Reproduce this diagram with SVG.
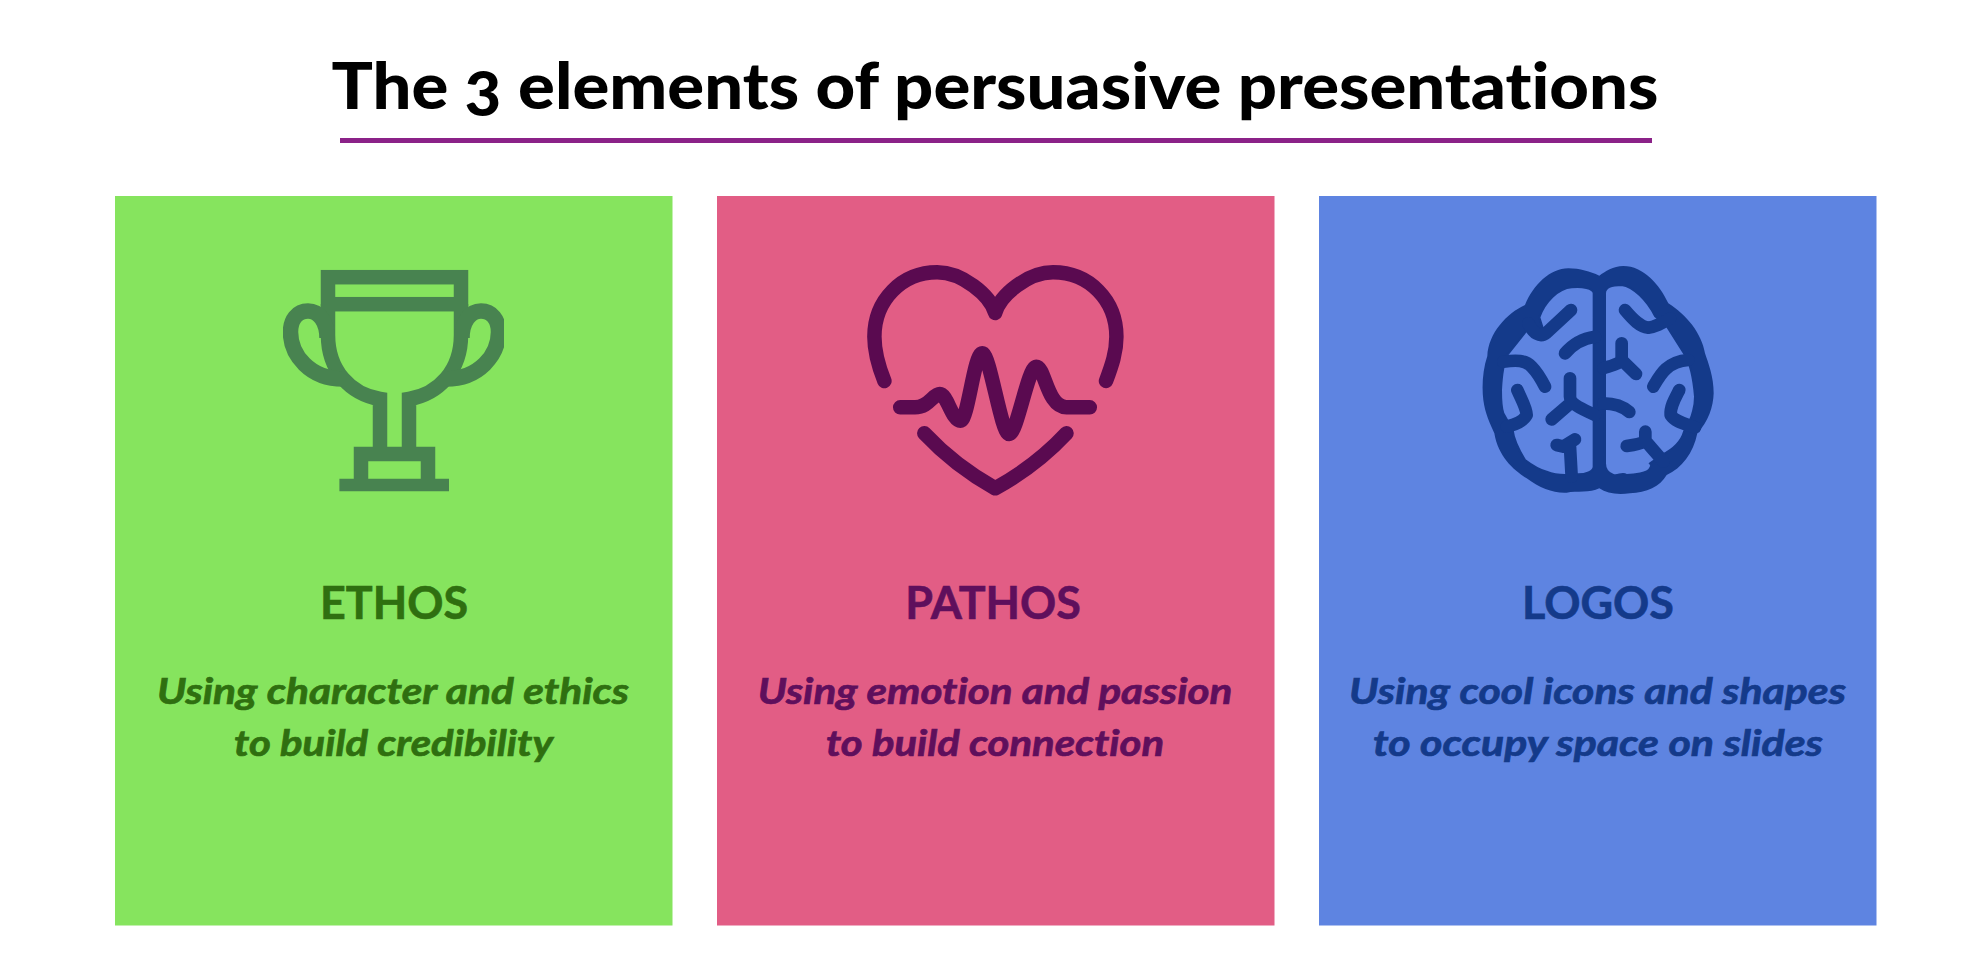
<svg xmlns="http://www.w3.org/2000/svg" width="1984" height="972" viewBox="0 0 1984 972">
<style>
text{font-family:"Lato","Liberation Sans",sans-serif;text-anchor:middle;font-variant-ligatures:none}
.title{font-size:64px;font-weight:900;fill:#000;font-variant-numeric:oldstyle-nums}
.head{font-size:45px;font-weight:700;stroke-width:.6px}
.desc{font-size:37px;font-weight:700;font-style:italic;stroke-width:.7px}
.ln{fill:none;stroke-linecap:round;stroke-linejoin:round}
.g{fill:#2f6f10;stroke:#2f6f10}.p{fill:#5f0f5c;stroke:#5f0f5c}.b{fill:#143a8a;stroke:#143a8a}
</style>
<defs><clipPath id="tc"><rect x="283" y="260" width="221" height="240"/></clipPath></defs>
<rect width="1984" height="972" fill="#fff"/>
<g id="title">
<text class="title" x="995" y="109" textLength="1327" lengthAdjust="spacingAndGlyphs">The 3 elements of persuasive presentations</text>
<rect x="340" y="138" width="1312" height="5" fill="#8b2288"/>
</g>
<g id="connectors"/>
<g id="ethos">
<rect x="115" y="196" width="557.500" height="729.500" fill="#86e45e"/>
<g clip-path="url(#tc)" fill="none" stroke="#488350" stroke-width="14.500">
<rect x="328" y="277.200" width="133" height="27"/>
<path d="M328 304V335C328 370 350 394 380 399V454M461 304V335C461 370 439 394 409 399V454"/>
<path d="M361 485V454H428V485"/>
<path d="M339.400 485H449" stroke-width="12.500"/>
<path stroke-width="15.500" d="M327 338C327 322 319 311 308 311C297 311 290.500 320 290.500 332C290.500 355 310 379 343 379"/>
<path stroke-width="15.500" d="M462 338C462 322 470 311 481 311C492 311 498.500 320 498.500 332C498.500 355 479 379 446 379"/>
</g>
<text class="head g" x="394" y="619" textLength="148" lengthAdjust="spacingAndGlyphs">ETHOS</text>
<text class="desc g" x="393" y="704" textLength="472" lengthAdjust="spacingAndGlyphs">Using character and ethics</text>
<text class="desc g" x="393.500" y="755.500" textLength="319" lengthAdjust="spacingAndGlyphs">to build credibility</text>
</g>
<g id="pathos">
<rect x="717" y="196" width="557.500" height="729.500" fill="#e25d85"/>
<g class="ln" stroke="#5a0a50" stroke-width="14.500">
<path d="M884.400 381C878 365 874.400 352 874.400 336.700C874.400 300 902 272.300 937.200 272.300C962 272.300 990 295 995.200 313C1000 295 1028 272.300 1053 272.300C1089 272.300 1116.400 300 1116.400 336.700C1116.400 352 1112 365 1106 381"/>
<path d="M900.200 407.300H915C929 407.300 933 394 939.800 394C947 394 952 420.700 960.500 420.700C968 420.700 974 353.300 982.300 353.300C990 353.300 1001 434 1009.200 434C1017 434 1028 366.700 1036.200 366.700C1045 366.700 1047 407.300 1066.500 407.300H1089.800"/>
<path d="M924.300 433.300Q955 466 995.200 488.300Q1036 466 1066.500 433.300"/>
</g>
<text class="head p" x="993" y="619" textLength="175.500" lengthAdjust="spacingAndGlyphs">PATHOS</text>
<text class="desc p" x="995" y="704" textLength="474.500" lengthAdjust="spacingAndGlyphs">Using emotion and passion</text>
<text class="desc p" x="995" y="755.500" textLength="338" lengthAdjust="spacingAndGlyphs">to build connection</text>
</g>
<g id="logos">
<rect x="1319" y="196" width="557.500" height="729.500" fill="#5e84e1"/>
<g transform="translate(1400 230) scale(.33333)">
<path fill="#143a8a" d="M598 137C570 125 540 115 505 115C450 115 400 165 375 225C320 250 265 310 262 378C248 420 245 470 250 510C255 550 270 580 283 610C295 680 340 720 380 745C420 775 460 790 500 788C530 782 570 790 598 775C620 790 650 795 690 790C740 788 780 770 800 735C845 715 880 670 892 610C925 575 940 530 941 490C941 440 925 400 915 370C905 310 860 255 805 220C780 165 730 108 670 108C640 108 615 125 598 137Z"/>
<path fill="#5e84e1" stroke="#143a8a" stroke-width="6" d="M581 190C581 175 545 168 515 172C475 175 435 215 418 262L430 300L385 295L322 375C312 395 305 440 303 480C303 510 305 535 310 550L338 600C340 620 345 640 375 690C395 705 420 720 440 725C465 735 480 735 495 735L535 733C555 733 581 725 581 710Z"/>
<path fill="#5e84e1" stroke="#143a8a" stroke-width="6" d="M615 190C615 170 640 165 665 165C700 170 740 210 765 258L800 288L855 375C870 400 880 440 885 500C885 530 875 560 870 570L852 605C845 630 825 655 785 675L750 700C755 705 755 710 750 715C745 730 700 735 680 735C665 725 655 740 640 735C625 730 615 720 615 700Z"/>
<g class="ln" stroke="#143a8a" stroke-width="38">
<path d="M513 240L440 308C420 325 400 310 385 280"/>
<path d="M495 370C520 340 550 325 585 320"/>
<path d="M310 395C350 390 375 390 395 410C410 425 425 450 435 470"/>
<path d="M352 480C365 510 380 535 380 555C370 575 340 585 320 590"/>
<path d="M510 445V500C510 520 540 535 585 555M455 568L505 525"/>
<path d="M525 628L490 650L470 645M510 650L515 740"/>
<path d="M675 240C700 270 720 290 745 293C770 290 785 280 810 265"/>
<path d="M665 340V385C665 400 640 405 610 415M665 390L708 432"/>
<path d="M610 520C650 520 670 530 688 546"/>
<path d="M760 470C780 435 800 395 865 390"/>
<path d="M838 480C825 505 810 530 812 555C825 575 850 580 885 592"/>
<path d="M736 605V630C730 640 700 645 680 648M735 630C750 650 770 670 790 695"/>
</g>
</g>
<text class="head b" x="1598" y="619" textLength="152" lengthAdjust="spacingAndGlyphs">LOGOS</text>
<text class="desc b" x="1597.500" y="704" textLength="497" lengthAdjust="spacingAndGlyphs">Using cool icons and shapes</text>
<text class="desc b" x="1598" y="755.500" textLength="450" lengthAdjust="spacingAndGlyphs">to occupy space on slides</text>
</g>
</svg>
